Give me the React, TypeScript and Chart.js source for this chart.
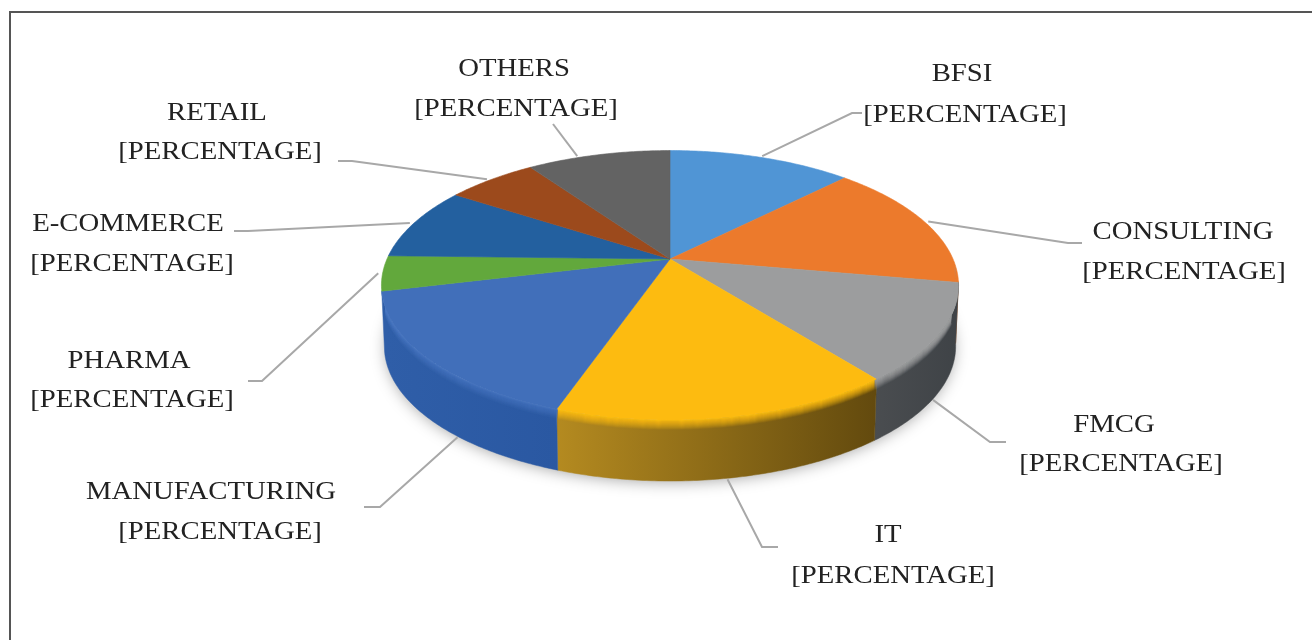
import React, { useEffect, useRef } from "react";
import { Chart, registerables } from "chart.js";

Chart.register(...registerables);

const categories = ["BFSI", "CONSULTING", "FMCG", "IT", "MANUFACTURING", "PHARMA", "E-COMMERCE", "RETAIL", "OTHERS"];
const shares = [12.4, 15.4, 11.6, 15.9, 15.9, 4.2, 8.8, 6.1, 9.7];
const valueLabel = "[PERCENTAGE]";

const faceColors = ["#5095d5", "#ec7a2c", "#9c9d9e", "#fdbb10", "#416fba", "#62a83c", "#23609f", "#9c4a1c", "#636363"];
const wallLeft = ["#2f5a80", "#8e4a1b", "#4a4d50", "#b48a20", "#2f5ea8", "#3c6a24", "#163a60", "#5f2d10", "#3c3c3c"];
const wallRight = ["#2f5a80", "#8e4a1b", "#3f4347", "#634a0e", "#2a58a2", "#3c6a24", "#163a60", "#5f2d10", "#3c3c3c"];
const glow = ["#7fb5e5", "#f5a060", "#9c9d9e", "#ffdc10", "#6f9ade", "#90c870", "#4a80b8", "#c06a30", "#8a8a8a"];

const TILT = 0.458;
const PERSPECTIVE = 0.195;
const DEPTH = 61;
const BOTTOM_SHRINK = 0.99;

const labelFont = '26px "Liberation Serif", serif';
const labelStretch = 1.105;

// layout of the text and the leader lines, in page pixels
const titleCentre = [[962, 81], [1183, 239], [1114, 432], [888, 542], [211, 499], [129, 368], [128, 231], [217, 120], [514, 76]];
const valueCentre = [[965, 122], [1184, 279], [1121, 471], [893, 583], [220, 539], [132, 407], [132, 271], [220, 159], [516, 116]];
const leaderPaths = [
  [[852, 113], [862, 113]],
  [[1068, 243], [1082, 243]],
  [[990, 442], [1006, 442]],
  [[762, 547], [778, 547]],
  [[380, 507], [364, 507]],
  [[262, 381], [248, 381]],
  [[248, 231], [234, 231]],
  [[352, 161], [338, 161]],
  [[553, 124]],
];
const leaderNudge = [0, 0, 2, 0, -7.5, 0, -0.5, -0.5, -5];

const pie3d = {
  id: "pie3d",
  beforeDatasetDraw(chart: any) {
    const ctx: CanvasRenderingContext2D = chart.ctx;
    const arcs = chart.getDatasetMeta(0).data;
    const { x: cx, y: cy, outerRadius: rx } = arcs[0];
    const ry = rx * TILT;
    const project = (t: number, z = 0, r = 1): [number, number] => {
      const w = 1 - PERSPECTIVE * r * Math.sin(t);
      const s = z > 20 ? BOTTOM_SHRINK : 1;
      return [cx + (s * rx * r * Math.cos(t)) / w, cy + (ry * r * Math.sin(t)) / w + z];
    };
    const trace = (from: number, to: number, z: number, r = 1, first = true) => {
      const n = Math.max(2, Math.ceil(Math.abs(to - from) * 90));
      for (let i = 0; i <= n; i++) {
        const [px, py] = project(from + ((to - from) * i) / n, z, r);
        if (i === 0 && first) ctx.moveTo(px, py);
        else ctx.lineTo(px, py);
      }
    };

    ctx.save();
    ctx.fillStyle = "#fff";
    ctx.fillRect(0, 0, chart.width, chart.height);

    // frame
    ctx.strokeStyle = "#555";
    ctx.lineWidth = 2;
    ctx.beginPath();
    ctx.moveTo(10, chart.height);
    ctx.lineTo(10, 12);
    ctx.lineTo(chart.width, 12);
    ctx.stroke();

    // soft shadow
    ctx.save();
    ctx.shadowColor = "rgba(0,0,0,0.38)";
    ctx.shadowBlur = 16;
    ctx.shadowOffsetY = 2;
    ctx.fillStyle = "#fff";
    ctx.beginPath();
    trace(0, Math.PI * 2, DEPTH, 0.992);
    ctx.closePath();
    ctx.fill();
    ctx.restore();

    // walls, only the part of the rim that faces the viewer
    const startLimit = 0.17;
    const endLimit = Math.PI - 0.24;
    arcs.forEach((arc: any, i: number) => {
      const tests = [arc.startAngle, arc.endAngle];
      [0, 2 * Math.PI, -2 * Math.PI].forEach((shift) => {
        const a = Math.max(tests[0] + shift, startLimit);
        const b = Math.min(tests[1] + shift, endLimit);
        if (b <= a) return;
        const [xa] = project(b, DEPTH);
        const [xb] = project(a, DEPTH);
        const g = ctx.createLinearGradient(xa, 0, xb, 0);
        g.addColorStop(0, wallLeft[i]);
        g.addColorStop(1, wallRight[i]);
        ctx.fillStyle = g;
        ctx.strokeStyle = g;
        ctx.lineWidth = 0.5;
        ctx.beginPath();
        trace(a, b, 0);
        trace(b, a, DEPTH, 1, false);
        ctx.closePath();
        ctx.fill();
        ctx.stroke();
      });
    });

    // top faces
    arcs.forEach((arc: any, i: number) => {
      ctx.fillStyle = faceColors[i];
      ctx.strokeStyle = faceColors[i];
      ctx.lineWidth = 0.6;
      ctx.beginPath();
      ctx.moveTo(cx, cy);
      trace(arc.startAngle, arc.endAngle, 0, 1, false);
      ctx.closePath();
      ctx.fill();
      ctx.stroke();
    });

    // soft bevel along the front of the rim, clipped to the solid
    ctx.save();
    ctx.beginPath();
    trace(startLimit - 0.15, endLimit + 0.15, 0);
    trace(endLimit + 0.15, startLimit - 0.15, DEPTH, 1, false);
    ctx.closePath();
    ctx.clip();
    arcs.forEach((arc: any, i: number) => {
      const a = Math.max(arc.startAngle, startLimit);
      const b = Math.min(arc.endAngle, endLimit);
      if (b <= a) return;
      const [xa] = project(b, DEPTH);
      const [xb] = project(a, DEPTH);
      ctx.save();
      ctx.beginPath();
      ctx.rect(Math.min(xa, xb), 0, Math.abs(xb - xa), chart.height);
      ctx.clip();
      ctx.lineWidth = 1.6;
      for (let d = 0; d <= 9; d++) {
        ctx.strokeStyle = faceColors[i];
        ctx.globalAlpha = 0.85 * (1 - d / 10);
        ctx.beginPath();
        trace(a - 0.1, b + 0.1, d);
        ctx.stroke();
      }
      ctx.filter = "blur(1.5px)";
      ctx.strokeStyle = glow[i];
      ctx.lineWidth = 3;
      ctx.globalAlpha = 0.4;
      ctx.beginPath();
      trace(a - 0.1, b + 0.1, -2);
      ctx.stroke();
      ctx.restore();
    });
    ctx.restore();

    // leader lines
    ctx.strokeStyle = "#a8a8a8";
    ctx.lineWidth = 2;
    arcs.forEach((arc: any, i: number) => {
      const mid = (arc.startAngle + arc.endAngle) / 2 + (leaderNudge[i] * Math.PI) / 180;
      const front = Math.sin(mid) > 0.2;
      const [sx, sy] = front ? project(mid, DEPTH + 1) : project(mid, 0, 1.015);
      ctx.beginPath();
      ctx.moveTo(sx, sy);
      leaderPaths[i].forEach(([px, py]) => ctx.lineTo(px, py));
      ctx.stroke();
    });

    // labels
    ctx.fillStyle = "#222";
    ctx.font = labelFont;
    ctx.textAlign = "center";
    ctx.textBaseline = "alphabetic";
    const put = (text: string, px: number, py: number) => {
      ctx.save();
      ctx.translate(px, py);
      ctx.scale(labelStretch, 1);
      ctx.fillText(text, 0, 0);
      ctx.restore();
    };
    categories.forEach((name, i) => {
      put(name, titleCentre[i][0], titleCentre[i][1]);
      put(valueLabel, valueCentre[i][0], valueCentre[i][1]);
    });
    ctx.restore();
    return false;
  },
};

export default function App() {
  const ref = useRef<HTMLCanvasElement>(null);
  useEffect(() => {
    const chart = new Chart(ref.current!, {
      type: "pie",
      data: {
        labels: categories,
        datasets: [{ data: shares, backgroundColor: faceColors, borderWidth: 0, radius: 283 } as any],
      },
      options: {
        responsive: false,
        animation: false,
        layout: { padding: { left: 28, top: 0, right: 0, bottom: 122 } },
        plugins: { legend: { display: false }, tooltip: { enabled: false } },
      },
      plugins: [pie3d],
    } as any);
    return () => chart.destroy();
  }, []);
  return (
    <canvas
      ref={ref}
      width={1312}
      height={640}
      style={{ position: "absolute", left: 0, top: 0, width: 1312, height: 640 }}
    />
  );
}
